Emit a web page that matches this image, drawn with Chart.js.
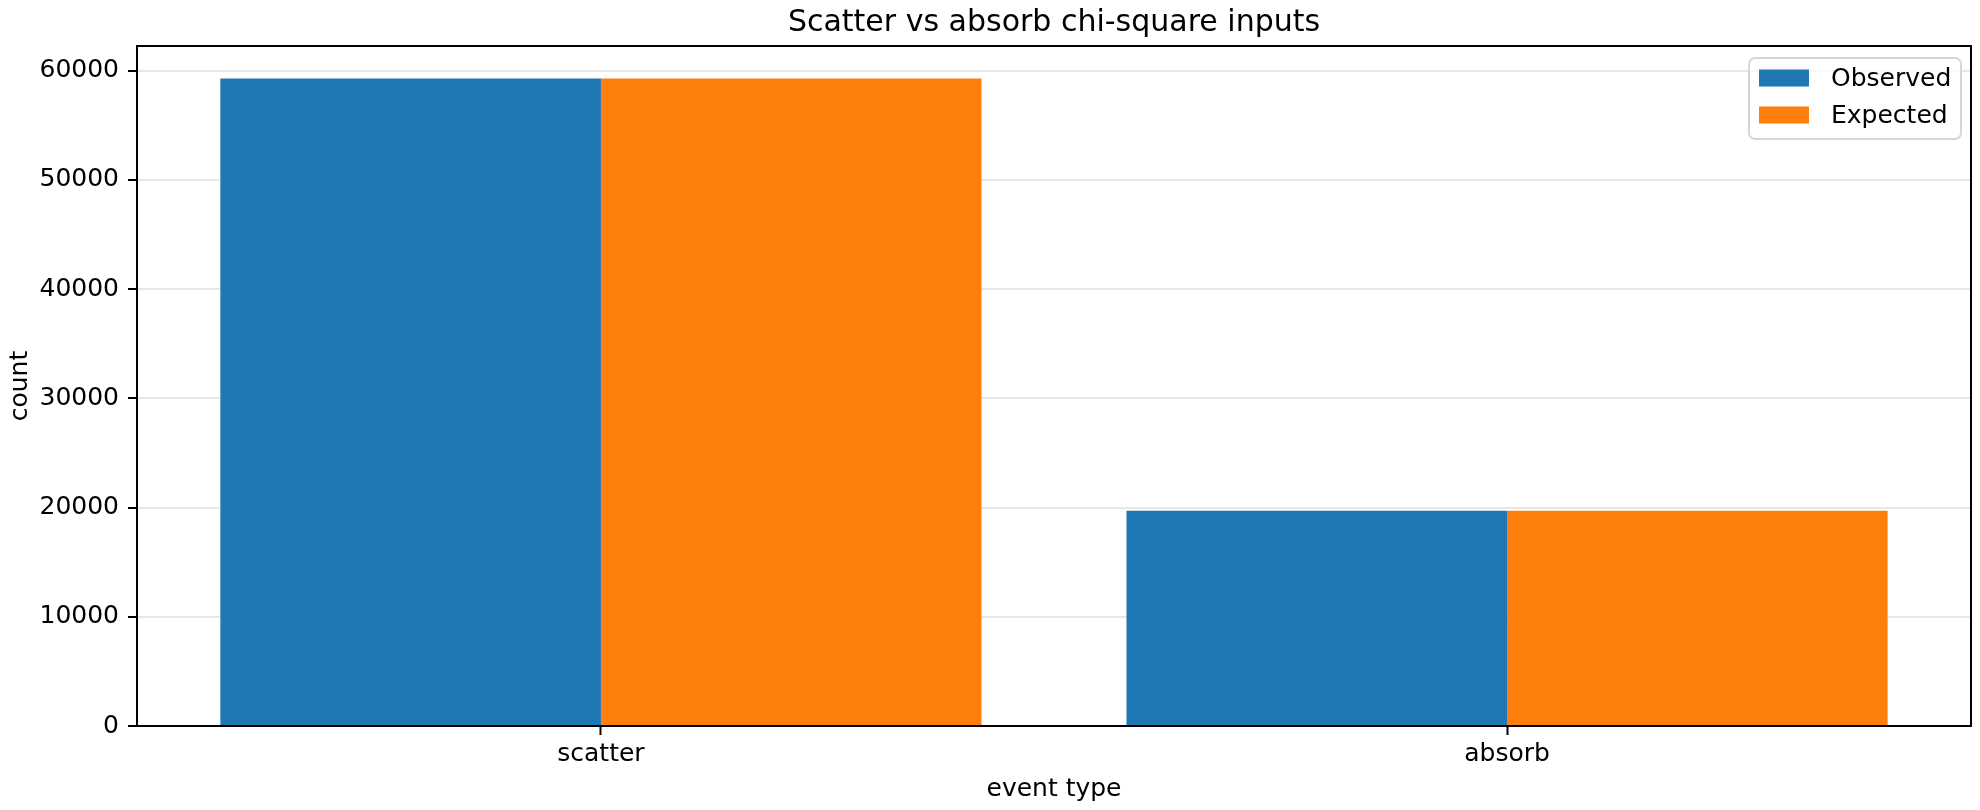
<!DOCTYPE html>
<html>
<head>
<meta charset="utf-8">
<title>Scatter vs absorb chi-square inputs</title>
<script src="https://cdn.jsdelivr.net/npm/chart.js@4/dist/chart.umd.min.js"></script>
<style>
  html, body { margin: 0; padding: 0; background: #fff; }
  #wrap { width: 1980px; height: 810px; position: relative; }
</style>
</head>
<body>
<div id="wrap"><canvas id="chart"></canvas></div>
<script>
// data
const categories = ["scatter", "absorb"];
const observed = [59300, 19700];
const expected = [59300, 19700];
const seriesNames = ["Observed", "Expected"];
const yTicks = [0, 10000, 20000, 30000, 40000, 50000, 60000];
const yMax = 62265;

const BLUE = "#1f77b4";
const ORANGE = "#ff7f0e";
const FONT = "'DejaVu Sans', sans-serif";

// bars are 0.42 wide each, axis padded 5% like matplotlib
const barW = 0.42;
const xPad = 0.05 * (categories.length - 1 + 2 * barW);

Chart.defaults.font.family = FONT;
Chart.defaults.color = "#000";

// box round the plot area + legend in the upper right
const frameAndLegend = {
  id: "frameAndLegend",
  afterDraw(chart) {
    const { ctx, chartArea: a } = chart;
    ctx.save();
    ctx.strokeStyle = "#000";
    ctx.lineWidth = 2;
    ctx.strokeRect(a.left, a.top, a.right - a.left, a.bottom - a.top);

    // legend
    const bx = a.right - 222, by = a.top + 12, bw = 212, bh = 81;
    ctx.beginPath();
    ctx.roundRect(bx, by, bw, bh, 6);
    ctx.fillStyle = "rgba(255,255,255,0.8)";
    ctx.fill();
    ctx.strokeStyle = "#d6d6d6";
    ctx.lineWidth = 2;
    ctx.stroke();

    ctx.font = "25px " + FONT;
    ctx.textBaseline = "middle";
    ctx.textAlign = "left";
    chart.data.datasets.forEach((ds, i) => {
      const cy = by + 20 + i * 37;
      ctx.fillStyle = ds.backgroundColor;
      ctx.fillRect(bx + 10, cy - 8.5, 50, 17);
      ctx.fillStyle = "#000";
      ctx.fillText(ds.label, bx + 82, cy + 1);
    });
    ctx.restore();
  }
};

const ctx = document.getElementById("chart").getContext("2d");
const chart = new Chart(ctx, {
  type: "bar",
  data: {
    datasets: [
      {
        label: seriesNames[0],
        data: observed.map((v, i) => ({ x: i, y: v })),
        backgroundColor: BLUE,
        borderWidth: 0,
      },
      {
        label: seriesNames[1],
        data: expected.map((v, i) => ({ x: i, y: v })),
        backgroundColor: ORANGE,
        borderWidth: 0,
      },
    ],
  },
  options: {
    responsive: true,
    maintainAspectRatio: false,
    animation: false,
    devicePixelRatio: 1,
    categoryPercentage: 2 * barW,
    barPercentage: 1.0,
    layout: { padding: { left: 0, right: 9, top: 0, bottom: 0 } },
    plugins: {
      legend: { display: false },
      tooltip: { enabled: false },
      title: {
        display: true,
        fullSize: false,
        text: "Scatter vs absorb chi-square inputs",
        font: { size: 30, weight: "normal", family: FONT },
        color: "#000",
        padding: { top: 5, bottom: 5 },
      },
    },
    scales: {
      x: {
        type: "linear",
        offset: false,
        min: -barW - xPad,
        max: categories.length - 1 + barW + xPad,
        grid: {
          display: true,
          offset: false,
          drawOnChartArea: false,
          drawTicks: true,
          tickLength: 9,
          tickWidth: 2,
          tickColor: "#000",
        },
        border: { display: false },
        afterBuildTicks: (scale) => {
          scale.ticks = categories.map((c, i) => ({ value: i }));
        },
        ticks: {
          font: { size: 25 },
          padding: 4,
          maxRotation: 0,
          callback: (v) => categories[v],
        },
        title: {
          display: true,
          text: "event type",
          font: { size: 25 },
          padding: { top: 0, bottom: 6 },
        },
        afterFit: (scale) => { scale.height = 84; },
      },
      y: {
        min: 0,
        max: yMax,
        z: 1,
        grid: {
          color: "rgba(176,176,176,0.3)",
          lineWidth: 2,
          drawTicks: true,
          tickLength: 9,
          tickWidth: 2,
          tickColor: "#000",
        },
        border: { display: false },
        afterBuildTicks: (scale) => {
          scale.ticks = yTicks.map((v) => ({ value: v }));
        },
        ticks: {
          font: { size: 25 },
          padding: 9,
          callback: (v) => String(v),
        },
        title: {
          display: true,
          text: "count",
          font: { size: 25 },
          padding: { top: 5, bottom: 0 },
        },
        afterFit: (scale) => { scale.width = 137; },
      },
    },
  },
  plugins: [frameAndLegend],
});
</script>
</body>
</html>
